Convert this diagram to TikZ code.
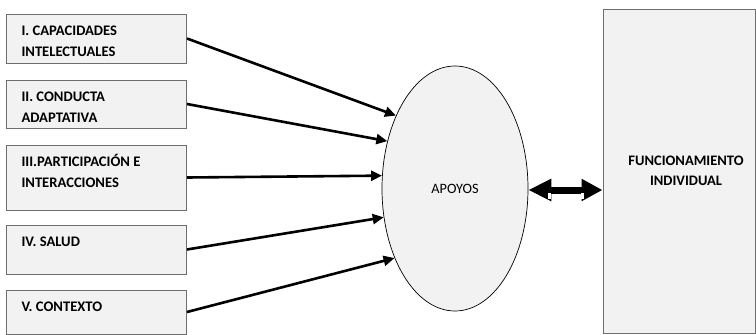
\documentclass[tikz,border=0pt]{standalone}
\usepackage{fontspec}
\setmainfont{Carlito}
\usetikzlibrary{arrows.meta,shapes.geometric}
\definecolor{boxfill}{HTML}{F2F2F2}
\definecolor{boxline}{HTML}{6E6E6E}
\newcommand{\bxt}[2]{\parbox[c][#1pt][t]{150pt}{\vspace*{6.8pt}\raggedright\bfseries #2}}
\begin{document}
\begin{tikzpicture}[x=1pt,y=-1pt,
  inbox/.style={draw=boxline, line width=1pt, fill=boxfill, rectangle, inner xsep=15pt, inner ysep=0pt, minimum width=179pt},
  conn/.style={line width=2.6pt, -{Triangle[length=11pt,width=10pt]}},
  font=\fontsize{14.6}{21.2}\selectfont]
\useasboundingbox (0,0) rectangle (756,335);
\node[inbox] (b1) at (96.5,38.5) {\bxt{49}{\strut I. CAPACIDADES\\\strut INTELECTUALES}};
\node[inbox] (b2) at (96.5,104) {\bxt{48}{\strut II. CONDUCTA\\\strut ADAPTATIVA}};
\node[inbox] (b3) at (96.5,177.5) {\bxt{65}{\strut III.PARTICIPACIÓN E\\\strut INTERACCIONES}};
\node[inbox] (b4) at (96.5,249.5) {\bxt{49}{\strut IV. SALUD}};
\node[inbox] (b5) at (96.5,312) {\bxt{44}{\strut V. CONTEXTO}};
\node[ellipse, draw=black, line width=0.7pt, fill=boxfill, inner sep=0pt, minimum width=146pt, minimum height=245pt, font=\fontsize{14.3}{20}\selectfont] (ap) at (455,188.5) {\raisebox{-4pt}{APOYOS}};
\node[draw=boxline, line width=1pt, fill=boxfill, rectangle, inner sep=0pt, minimum width=152pt, minimum height=324pt, font=\fontsize{14.5}{20}\selectfont\bfseries] (fi) at (679,171) {\parbox{140pt}{\centering\hspace*{14pt}FUNCIONAMIENTO\\\hspace*{14pt}INDIVIDUAL}};
\draw[conn] (b1.east) -- (ap.129.8);
\draw[conn] (b2.east) -- (ap.145.6);
\draw[conn] (b3.east) -- (ap.170.2);
\draw[conn] (b4.east) -- (ap.202);
\draw[conn] (b5.east) -- (ap.229);
\coordinate (ae) at ([yshift=-1.5pt]ap.east);
\draw[line width=7pt, {Triangle[length=23pt,width=21pt]}-{Triangle[length=21pt,width=21pt]}] (ae) -- (ae -| fi.west);
\fill[white] ([xshift=19.5pt,yshift=-3pt]ae) rectangle +(3.5,6);
\fill[white] ([xshift=-21.5pt,yshift=-3pt]ae -| fi.west) rectangle +(2.5,6);
\end{tikzpicture}
\end{document}
